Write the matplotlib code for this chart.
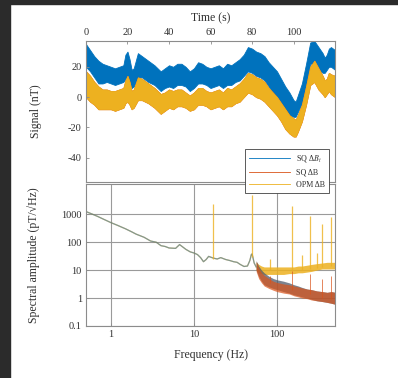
import numpy as np
import matplotlib
matplotlib.use("Agg")
import matplotlib.pyplot as plt
from matplotlib.patches import Rectangle

plt.rcParams['font.family'] = ['Liberation Serif', 'DejaVu Serif']
plt.rcParams['mathtext.fontset'] = 'stix'
plt.rcParams['axes.unicode_minus'] = False

# ---- time domain (envelopes) ----
t = [0, 2, 4, 6, 8, 10, 12, 14, 16, 18, 19, 20, 21, 22, 23, 25, 27, 30, 33, 36,
     38, 40, 42, 44, 46, 48, 50, 52, 54, 56, 58, 60, 62, 64, 66, 68, 70, 72, 74,
     76, 78, 80, 82, 84, 86, 88, 90, 92, 94, 96, 98, 100, 101, 102, 104, 106,
     108, 110, 112, 114, 115, 116, 117, 118, 120]
bt_hi = [35, 31, 27, 24, 22, 21, 20, 19, 20, 21, 28, 30, 25, 18, 19, 29, 27, 24,
         21, 17, 19, 21, 20, 22, 22, 20, 17, 19, 23, 22, 20, 19, 20, 21, 19, 22,
         21, 23, 25, 28, 33, 32, 30, 29, 27, 23, 20, 17, 12, 7, 3, -2, -3, 1, 9,
         22, 36, 37, 33, 29, 26, 28, 32, 33, 31]
bt_lo = [20, 17, 13, 9, 9, 10, 9, 8, 9, 10, 12, 14, 10, 6, 7, 13, 13, 10, 8, 4,
         6, 7, 6, 8, 8, 7, 4, 6, 9, 9, 8, 6, 7, 8, 6, 8, 8, 10, 11, 14, 17, 16,
         14, 13, 11, 7, 3, 0, -5, -10, -12, -13, -13, -10, -4, 8, 22, 22, 18, 16,
         16, 18, 20, 20, 18]
b_hi = [17, 14, 10, 7, 5, 5, 4, 4, 5, 6, 11, 14, 10, 4, 5, 13, 12, 9, 6, 2, 3,
        5, 4, 5, 5, 3, 1, 3, 6, 6, 4, 3, 4, 5, 3, 6, 5, 7, 9, 12, 16, 15, 13, 12,
        10, 6, 3, 0, -4, -8, -12, -14, -15, -12, -5, 7, 20, 24, 19, 14, 11, 12,
        16, 15, 14]
b_lo = [0, -3, -5, -8, -8, -8, -8, -9, -8, -7, -4, -3, -5, -8, -7, -2, -2, -4,
        -7, -11, -9, -7, -8, -6, -6, -7, -9, -8, -5, -5, -6, -8, -7, -6, -8, -6,
        -6, -4, -3, 0, 3, 2, 0, -1, -3, -6, -9, -12, -16, -21, -24, -26, -26,
        -23, -16, -5, 8, 10, 5, 2, 0, 2, 4, 2, 0]

# ---- spectra ----
f_lf = [0.5, 0.6, 0.7, 0.8, 1.0, 1.2, 1.5, 1.8, 2.0, 2.5, 3.0, 3.5, 4.0, 4.5,
        5.0, 6.0, 6.7, 8.0, 9.0, 10, 11, 12, 13, 14, 15, 17, 19, 21, 24, 27,
        30, 33, 36, 40, 44, 47, 49, 50, 51, 53, 56]
a_lf = [1250, 1000, 820, 680, 500, 400, 300, 230, 195, 150, 110, 100, 75, 70,
        62, 60, 82, 55, 45, 41, 36, 28, 20, 24, 31, 27, 25, 28, 24, 22, 20, 19,
        16, 13.5, 14, 22, 36, 38, 30, 18, 13]

f_hf = [56, 60, 65, 70, 80, 90, 100, 120, 140, 160, 180, 200, 230, 260, 300,
        350, 400, 450, 500]
sqbt_hi = [22, 14, 10, 8, 6, 5, 4.5, 4, 3.5, 3, 2.7, 2.4, 2.1, 2.0, 1.8, 1.7,
           1.6, 1.7, 1.6]
sqbt_lo = [10, 6, 4, 3, 2.5, 2.2, 2, 1.7, 1.5, 1.3, 1.2, 1.1, 1.0, 0.9, 0.8,
           0.75, 0.7, 0.65, 0.6]
sqb_hi = [20, 12, 8, 6.5, 5, 4, 3.6, 3.2, 3, 2.7, 2.5, 2.3, 2.1, 2.0, 1.8, 1.7,
          1.6, 1.7, 1.6]
sqb_lo = [9, 5, 3.5, 2.7, 2.2, 1.9, 1.7, 1.5, 1.4, 1.2, 1.1, 1.0, 0.95, 0.85,
          0.8, 0.75, 0.7, 0.65, 0.6]
opm_hi = [20, 16, 14, 13, 13, 13, 13, 13, 13, 13, 14, 14, 15, 16, 17, 18, 19,
          19, 19]
opm_lo = [10, 8, 7.5, 7, 7, 7, 7, 7, 7.5, 7.5, 8, 8, 8.5, 9, 10, 11, 11, 11, 11]

spike_f = [16.7, 50, 83.3, 150, 200, 250, 300, 350, 450]
spike_base = [25, 30, 10, 10, 10, 11, 12, 13, 14]
spike_opm = [2400, 5000, 25, 2000, 35, 880, 40, 450, 770]
sq_spike_f = [83.3, 150, 250, 350, 450]
sq_spike_base = [3.5, 2, 1.4, 1.0, 0.9]
sq_spike_top = [6, 9, 7, 5, 6]

c_blue = '#0072BD'
c_orange = '#D95319'
c_yellow = '#EDB120'
grey = '#8c8c8c'
txt = '#303030'

fig = plt.figure(figsize=(3.98, 3.78), dpi=100)
fig.patches.append(Rectangle((0, 0), 10 / 398, 1, transform=fig.transFigure,
                             color='#2b2b2b', zorder=-1))
fig.patches.append(Rectangle((0, 1 - 4 / 378), 1, 4 / 378,
                             transform=fig.transFigure, color='#2b2b2b', zorder=-1))

ax1 = fig.add_axes([0.216, 0.5185, 0.626, 0.373])
ax2 = fig.add_axes([0.216, 0.1376, 0.626, 0.3754])

# top panel
ax1.fill_between(t, bt_lo, bt_hi, color=c_blue, lw=0.6, ec=c_blue)
ax1.fill_between(t, b_lo, b_hi, color=c_orange, lw=0.6, ec=c_orange)
ax1.fill_between(t, b_lo, b_hi, color=c_yellow, lw=0.6, ec=c_yellow)
ax1.set_xlim(0, 120)
ax1.set_ylim(-56, 37)
ax1.set_xticks([0, 20, 40, 60, 80, 100])
ax1.set_yticks([-40, -20, 0, 20])
ax1.xaxis.tick_top()
ax1.xaxis.set_label_position('top')
ax1.set_xlabel('Time (s)', fontsize=8.5, color=txt, labelpad=5)
ax1.set_ylabel('Signal (nT)', fontsize=8.5, color=txt)
ax1.yaxis.set_label_coords(-0.177, 0.5)

# bottom panel
ax2.set_xscale('log')
ax2.set_yscale('log')
ax2.plot(f_lf, a_lf, color=c_yellow, lw=0.9, alpha=0.6)
ax2.plot(f_lf, a_lf, color=c_orange, lw=0.9, alpha=0.2)
ax2.plot(f_lf, a_lf, color=c_blue, lw=0.9, alpha=0.45)
ax2.fill_between(f_hf, opm_lo, opm_hi, color=c_yellow, alpha=0.85, lw=0)
ax2.fill_between(f_hf, sqbt_lo, sqbt_hi, color='#505a6a', alpha=0.75, lw=0)
ax2.fill_between(f_hf, sqb_lo, sqb_hi, color=c_orange, alpha=0.7, lw=0)
ax2.vlines(spike_f, spike_base, spike_opm, color=c_yellow, lw=0.9, alpha=0.8)
ax2.vlines(sq_spike_f, sq_spike_base, sq_spike_top, color=c_orange, lw=0.7, alpha=0.7)
ax2.set_xlim(0.5, 500)
ax2.set_ylim(0.1, 1.2e4)
ax2.set_xticks([1, 10, 100])
ax2.set_xticklabels(['1', '10', '100'])
ax2.set_yticks([0.1, 1, 10, 100, 1000])
ax2.set_yticklabels(['0.1', '1', '10', '100', '1000'])
ax2.minorticks_off()
ax2.grid(True, color='#9a9a9a', lw=0.8)
ax2.set_axisbelow(True)
ax2.set_xlabel('Frequency (Hz)', fontsize=8.5, color=txt, labelpad=7)
ax2.set_ylabel('Spectral amplitude (pT/\u221aHz)', fontsize=8.5, color=txt)
ax2.yaxis.set_label_coords(-0.185, 0.5)

for ax in (ax1, ax2):
    for s in ax.spines.values():
        s.set_color(grey)
        s.set_linewidth(0.8)
    ax.tick_params(direction='in', length=2.5, width=0.6, color=grey,
                   labelsize=7.5, labelcolor=txt, pad=3)

handles = [plt.Line2D([], [], color=c_blue, lw=0.6),
           plt.Line2D([], [], color=c_orange, lw=0.6),
           plt.Line2D([], [], color=c_yellow, lw=0.6)]
leg = fig.legend(handles, ['SQ \u0394$B_t$', 'SQ \u0394B', 'OPM \u0394B'],
                 loc='upper right', bbox_to_anchor=(0.8367, 0.6164),
                 fontsize=5.8, frameon=True, fancybox=False, handlelength=5,
                 borderpad=0.5, labelspacing=0.55, handletextpad=0.8)
leg.get_frame().set_edgecolor('#404040')
leg.get_frame().set_linewidth(0.6)
leg.get_frame().set_alpha(1)
for tx in leg.get_texts():
    tx.set_color(txt)

fig.savefig('out.png', dpi=100, facecolor='white')
